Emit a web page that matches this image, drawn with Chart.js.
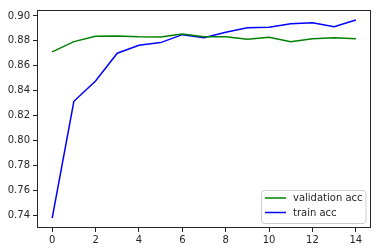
<!DOCTYPE html>
<html>
<head>
<meta charset="utf-8">
<script src="https://cdn.jsdelivr.net/npm/chart.js@4/dist/chart.umd.min.js"></script>
<style>
html,body{margin:0;padding:0;background:#fff;}
#wrap{width:382px;height:252px;position:relative;}
</style>
</head>
<body>
<div id="wrap"><canvas id="c" width="382" height="252"></canvas></div>
<script>
const epochs = [0,1,2,3,4,5,6,7,8,9,10,11,12,13,14];
const valAcc = [0.8712,0.8794,0.8837,0.8840,0.8834,0.8832,0.8856,0.8834,0.8834,0.8813,0.8829,0.8794,0.8818,0.8826,0.8818];
const trainAcc = [0.7377,0.8315,0.8478,0.8701,0.8765,0.8786,0.8850,0.8826,0.8869,0.8906,0.8909,0.8938,0.8946,0.8914,0.8968];
const xTicks = [0,2,4,6,8,10,12,14];
const yTicks = [0.74,0.76,0.78,0.80,0.82,0.84,0.86,0.88,0.90];

const frame = {
  id:'frame',
  afterDraw(chart){
    const {ctx, chartArea:a} = chart;
    ctx.save();
    ctx.strokeStyle='#262626';
    ctx.lineWidth=1;
    ctx.strokeRect(Math.round(a.left)+0.5, Math.round(a.top)+0.5, Math.round(a.right-a.left)-1, Math.round(a.bottom-a.top)-1);
    // legend
    const x0=261.5, y0=190.5, w=104.5, h=33, r=3;
    ctx.globalAlpha=0.8;
    ctx.fillStyle='#ffffff';
    ctx.beginPath();
    ctx.roundRect(x0,y0,w,h,r);
    ctx.fill();
    ctx.globalAlpha=1;
    ctx.strokeStyle='#cccccc';
    ctx.stroke();
    const ds = chart.data.datasets;
    const rows=[198,212.5];
    ctx.font='10px "DejaVu Sans"';
    ctx.textBaseline='middle';
    ds.forEach((d,i)=>{
      ctx.strokeStyle=d.borderColor;
      ctx.lineWidth=1.5;
      ctx.beginPath();
      ctx.moveTo(265,rows[i]);ctx.lineTo(286,rows[i]);ctx.stroke();
      ctx.fillStyle='#262626';
      ctx.fillText(d.label,293,rows[i]+0.5);
    });
    ctx.restore();
  }
};

new Chart(document.getElementById('c'),{
  type:'line',
  data:{
    datasets:[
      {label:'validation acc', data:epochs.map((e,i)=>({x:e,y:valAcc[i]})), borderColor:'#008000', borderWidth:1.5, pointRadius:0, fill:false, tension:0},
      {label:'train acc', data:epochs.map((e,i)=>({x:e,y:trainAcc[i]})), borderColor:'#0000ff', borderWidth:1.5, pointRadius:0, fill:false, tension:0}
    ]
  },
  options:{
    responsive:false,
    animation:false,
    devicePixelRatio:1,
    layout:{padding:{left:0,top:10,right:11,bottom:0}},
    plugins:{legend:{display:false},tooltip:{enabled:false}},
    scales:{
      x:{
        type:'linear', min:-0.7, max:14.7,
        afterBuildTicks:(ax)=>{ax.ticks=xTicks.map(v=>({value:v}));},
        afterFit:(ax)=>{ax.height=24;},
        grid:{drawOnChartArea:false, drawTicks:true, tickLength:4, color:'#262626'},
        border:{display:false},
        ticks:{color:'#262626', font:{family:'DejaVu Sans', size:10}, padding:2, maxRotation:0, autoSkip:false, callback:(v)=>String(v)}
      },
      y:{
        type:'linear', min:0.7297, max:0.9048,
        afterBuildTicks:(ax)=>{ax.ticks=yTicks.map(v=>({value:v}));},
        afterFit:(ax)=>{ax.width=37;},
        grid:{drawOnChartArea:false, drawTicks:true, tickLength:4, color:'#262626'},
        border:{display:false},
        ticks:{color:'#262626', font:{family:'DejaVu Sans', size:10}, padding:3, autoSkip:false, callback:(v)=>Number(v).toFixed(2)}
      }
    }
  },
  plugins:[frame]
});
</script>
</body>
</html>
